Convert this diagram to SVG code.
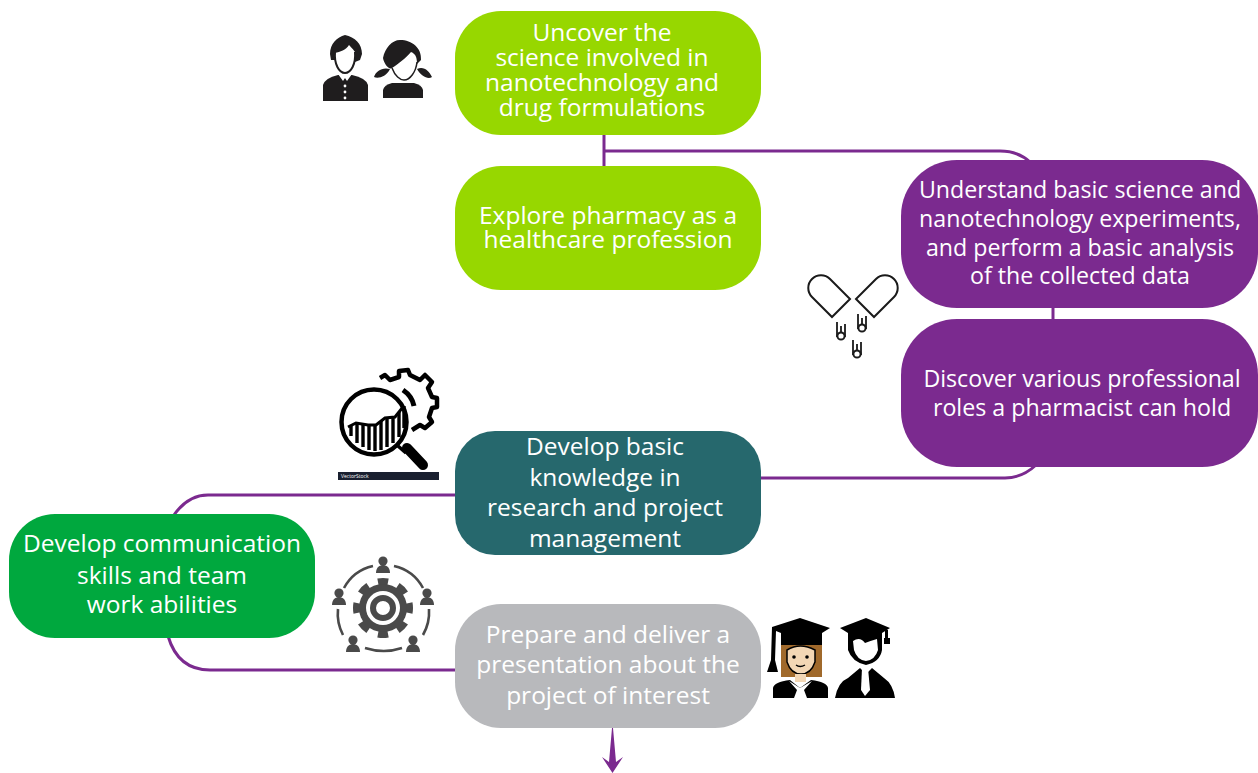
<svg xmlns="http://www.w3.org/2000/svg" width="1258" height="773" viewBox="0 0 1258 773">
<style>
text{font-family:"Open Sans","Noto Sans","DejaVu Sans",sans-serif;font-size:24.5px;fill:#fff;text-anchor:middle}
.p text{font-size:23.2px}
.c{fill:none;stroke:#7b2a8f;stroke-width:3}
.k{fill:#1f1d1e}
.o{fill:none;stroke:#1a1a1a;stroke-width:2}
.d{fill:#4a4a4a}
.ds{fill:none;stroke:#4a4a4a;stroke-width:2.6}
.b{fill:#000}
.w{fill:#fff}
</style>
<defs>
<g id="person"><circle cx="0" cy="-5" r="4.6" class="d"/><path class="d" d="M-7,7 C-7,1 -3,-1 0,-1 C3,-1 7,1 7,7 Z"/></g>
<g id="drop"><path d="M-4,-13 V2 M0,-9 V-2 M4,-11 V2" fill="none" stroke="#1a1a1a" stroke-width="1.8"/><circle cx="0" cy="1" r="3.6" fill="#fff" stroke="#1a1a1a" stroke-width="2"/></g>
</defs>
<rect width="1258" height="773" fill="#fff"/>
<g id="connectors">
<path class="c" d="M604,135 V166"/>
<path class="c" d="M604,151 H1000 Q1018,151 1030,162"/>
<path class="c" d="M1053,306 V320"/>
<path class="c" d="M760,478 H1005 Q1022,478 1036,465"/>
<path class="c" d="M456,495 H208 Q188,495 174,515"/>
<path class="c" d="M168,636 Q178,670 210,670 H456"/>
<path d="M612,728 H613 L616,762 L623,757 L612.5,773 L602,757 L609,762 Z" fill="#7b2a8f"/>
</g>
<g id="node-uncover"><rect x="455" y="11" width="306" height="124" rx="46" fill="#97d700"/>
<text x="602" y="41">Uncover the</text><text x="602" y="66">science involved in</text><text x="602" y="91">nanotechnology and</text><text x="602" y="116">drug formulations</text></g>
<g id="node-explore"><rect x="455" y="166" width="306" height="124" rx="46" fill="#97d700"/>
<text x="608" y="224">Explore pharmacy as a</text><text x="608" y="248">healthcare profession</text></g>
<g id="node-understand" class="p"><rect x="901" y="160" width="357" height="148" rx="56" fill="#7b2a8f"/>
<text x="1080" y="198">Understand basic science and</text><text x="1080" y="227">nanotechnology experiments,</text><text x="1080" y="256">and perform a basic analysis</text><text x="1080" y="284">of the collected data</text></g>
<g id="node-discover" class="p"><rect x="901" y="319" width="357" height="148" rx="56" fill="#7b2a8f"/>
<text x="1082" y="387">Discover various professional</text><text x="1082" y="416">roles a pharmacist can hold</text></g>
<g id="node-develop-research"><rect x="455" y="431" width="306" height="124" rx="40" fill="#26686d"/>
<text x="605" y="455">Develop basic</text><text x="605" y="486">knowledge in</text><text x="605" y="516">research and project</text><text x="605" y="547">management</text></g>
<g id="node-communication"><rect x="9" y="514" width="306" height="124" rx="46" fill="#00a83e"/>
<text x="162" y="552">Develop communication</text><text x="162" y="584">skills and team</text><text x="162" y="613">work abilities</text></g>
<g id="node-presentation"><rect x="455" y="604" width="306" height="124" rx="46" fill="#b8b9bc"/>
<text x="608" y="643">Prepare and deliver a</text><text x="608" y="673">presentation about the</text><text x="608" y="704">project of interest</text></g>
<g id="icon-students">
<path class="k" d="M323,101 V85 Q325,78 338,75 H352 Q366,78 368,85 V101 Z"/>
<path class="w" d="M338,74 L343,81 L345,78 L347,81 L352,74 Z"/>
<circle cx="345" cy="86" r="1.4" class="w"/><circle cx="345" cy="92" r="1.4" class="w"/><circle cx="345" cy="98" r="1.4" class="w"/>
<path class="k" d="M345,35 C355,37 362,44 362,54 L360,60 L355,62 L355,52 C352,48 350,46 349,45 C346,50 340,52 335,53 L335,60 L331,60 L330,54 C330,44 337,37 345,35 Z"/>
<path fill="none" stroke="#1f1d1e" stroke-width="2" d="M335,52 C334,64 339,73 345,73 C351,73 356,64 355,52"/>
<path class="k" d="M383,98 V90 Q384,85 392,83 H414 Q422,85 423,90 V98 Z"/>
<path class="k" d="M400,40 C412,40 422,48 421,60 L417,64 C417,58 416,54 411,52 C406,58 398,64 392,68 C389,70 384,64 383,58 C385,48 392,40 400,40 Z"/>
<path fill="none" stroke="#1f1d1e" stroke-width="1.5" d="M392,68 C395,76 400,80 404,80 C410,80 416,72 417,62"/>
<path class="k" d="M390,69 C386,77 378,79 374,77 C376,71 382,67 390,69 Z M417,69 C421,76 428,80 432,77 C429,71 424,66 417,69 Z"/>
</g>
<g id="icon-capsule">
<path class="o" d="M850,299 L832,317 L812,297 A12.7,12.7 0 0 1 830,279 Z"/>
<path class="o" d="M856,299 L874,317 L894,297 A12.7,12.7 0 0 0 876,279 Z"/>
<use href="#drop" x="841" y="335"/><use href="#drop" x="862" y="327"/><use href="#drop" x="857" y="353"/>
</g>
<g id="icon-analysis">
<path fill="none" stroke="#000" stroke-width="4.5" stroke-linejoin="round" d="M380,378 L385,375 L390,380 L399,377 L399,371 L408,370 L410,375 L420,380 L425,375 L432,382 L428,388 L432,397 L437,398 V407 L432,408 L429,417 L432,422 L425,428 L420,425 L412,430"/>
<path fill="none" stroke="#000" stroke-width="5" d="M403,390 Q412,396 414,406"/>
<circle cx="374" cy="422" r="32.5" fill="#fff" stroke="#000" stroke-width="4.5"/>
<path fill="none" stroke="#000" stroke-width="3" d="M348,427 L356,423 L368,425 L376,425 L385,418 L395,417 L403,407"/>
<path fill="none" stroke="#000" stroke-width="3.4" d="M351,425 V436 M357,424 V443 M363,424 V447 M369,425 V450 M375,425 V451 M381,421 V450 M387,418 V447 M393,417 V443 M399,412 V437 M404,406 V428"/>
<path fill="none" stroke="#000" stroke-width="3.5" d="M398,446 L406,453"/>
<path fill="none" stroke="#000" stroke-width="10" stroke-linecap="round" d="M407,448 L423,465"/>
<rect x="338" y="472" width="101" height="8" fill="#1a2030"/>
<text x="341" y="478" style="font-size:5px;text-anchor:start">VectorStock</text>
</g>
<g id="icon-team">
<path class="ds" d="M373,566 A44,44 0 0 0 344,588 M394,566 A44,44 0 0 1 423,588 M338,609 A46,46 0 0 0 343,635 M429,609 A46,46 0 0 1 423,635 M365,648 Q384,654 402,648"/>
<use href="#person" x="383" y="566"/><use href="#person" x="339" y="598"/><use href="#person" x="427" y="598"/><use href="#person" x="353" y="645"/><use href="#person" x="413" y="645"/>
<circle cx="383" cy="608" r="26.5" fill="none" stroke="#4a4a4a" stroke-width="7" pathLength="80" stroke-dasharray="5 5" stroke-dashoffset="2.5"/>
<circle cx="383" cy="608" r="24" class="d"/>
<circle cx="383" cy="608" r="17" class="w"/>
<circle cx="383" cy="608" r="10" fill="none" stroke="#4a4a4a" stroke-width="6"/>
</g>
<g id="icon-graduates">
<path fill="#a0692b" d="M781,640 H822 V677 H781 Z"/>
<path class="b" d="M772,627 L800,618 L830,628 L822,633 V645 H781 V633 L776,631 L775,660 L778,672 H767 L771,660 Z"/>
<path fill="#f3d7b5" d="M787,650 Q800,642 815,650 V662 Q811,674 801,674 Q791,674 787,662 Z" stroke="#000" stroke-width="1.5"/>
<circle cx="794" cy="657" r="1.8" class="b"/><circle cx="807" cy="657" r="1.8" class="b"/>
<path d="M796,665 Q800,668 805,665" fill="none" stroke="#000" stroke-width="1.4"/>
<rect x="795" y="674" width="11" height="8" fill="#f3d7b5"/>
<path class="b" d="M773,698 V688 Q774,682 790,680 L800,688 L811,680 Q827,682 828,688 V698 Z"/>
<path class="w" d="M789,681 L797,690 L794,698 H807 L804,690 L812,681 L800,688 Z"/>
<path class="b" d="M840,628 L866,618 L890,628 L882,633 V650 Q880,662 866,665 Q852,662 848,650 V633 Z"/>
<path class="b" d="M885,630 H888 V638 H890 V644 H884 V638 H885 Z"/>
<path class="w" d="M853,641 Q860,636 865,643 Q870,641 877,639 L878,650 Q875,660 866,661 Q857,660 854,650 Z"/>
<path class="b" d="M835,698 Q838,682 848,678 L860,668 L866,674 L872,668 L884,678 Q893,684 895,698 Z"/>
<path class="w" d="M862,668 L868,668 L870,690 L865,696 L861,690 Z"/>
</g>
</svg>
